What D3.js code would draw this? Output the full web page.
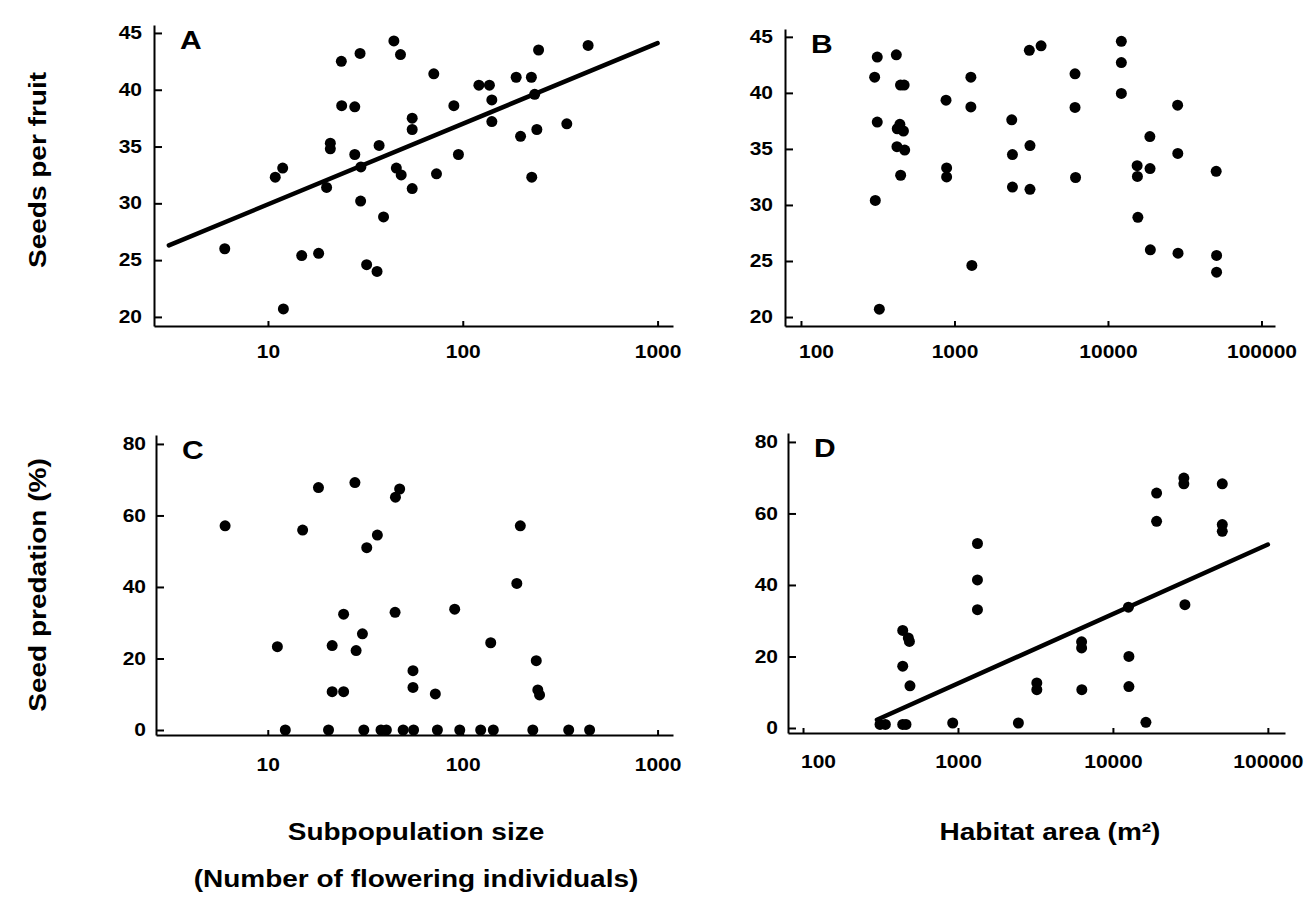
<!DOCTYPE html>
<html>
<head>
<meta charset="utf-8">
<script src="https://cdn.jsdelivr.net/npm/d3@7"></script>
<style>
  body { margin: 0; background: #fff; }
  svg text { font-family: "Liberation Sans", Arial, sans-serif; font-weight: bold; fill: #000; }
  .tick text { font-size: 21px; }
  .titulo { font-size: 28px; }
  .letra { font-size: 30px; }
</style>
</head>
<body>
<div id="graf"></div>
<script>
// A: subpopulation size vs seeds per fruit
const seedsSize = [
  [6.0, 26.0], [12.0, 20.7], [10.9, 32.3], [11.9, 33.1], [14.9, 25.4], [18.2, 25.6],
  [20.0, 31.4], [20.9, 35.3], [20.9, 34.8], [23.8, 42.5], [23.9, 38.6], [27.9, 38.5],
  [27.9, 34.3], [29.7, 43.2], [30.0, 33.2], [29.9, 30.2], [32.1, 24.6], [36.3, 24.0],
  [37.2, 35.1], [39.2, 28.8], [44.3, 44.3], [47.9, 43.1], [45.6, 33.1], [48.3, 32.5],
  [55, 31.3], [55, 37.5], [55, 36.5], [71, 41.4], [73.3, 32.6], [90, 38.6], [95, 34.3],
  [121, 40.4], [137, 40.4], [141, 39.1], [141, 37.2], [188, 41.1], [198, 35.9],
  [225, 41.1], [234, 39.6], [226, 32.3], [240, 36.5], [245, 43.5], [342, 37.0], [440, 43.9]
]
const fitA = [[3.1, 26.3], [1000, 44.1]]

// B: habitat area vs seeds per fruit
const seedsArea = [
  [314, 43.2], [418, 43.4], [302, 41.4], [445, 40.7], [470, 40.7], [314, 37.4], [441, 37.2],
  [424, 36.8], [465, 36.6], [422, 35.2], [474, 34.9], [446, 32.65], [305, 30.4], [324, 20.7],
  [881, 39.35], [889, 33.3], [889, 32.5], [1279, 41.4], [1279, 38.75], [1298, 24.6],
  [2361, 37.6], [2386, 34.5], [2386, 31.6], [3104, 35.3], [3104, 31.4], [3074, 43.8],
  [3666, 44.2], [6100, 41.7], [6100, 38.7], [6150, 32.45], [12220, 44.6], [12220, 42.7],
  [12220, 39.95], [18750, 36.1], [18800, 33.25], [15490, 33.5], [15550, 32.55], [15660, 28.9],
  [18880, 26.0], [28430, 38.9], [28500, 34.6], [28600, 25.7], [50700, 33.0], [51000, 25.5],
  [51000, 24.0]
]

// C: subpopulation size vs seed predation
const predSize = [
  [6.04, 57.1], [11.2, 23.3], [12.3, 0], [15.1, 55.9], [18.2, 67.8], [20.5, 0], [21.4, 23.6],
  [21.4, 10.7], [24.5, 10.7], [24.5, 32.4], [28.0, 69.2], [28.4, 22.2], [30.6, 26.9],
  [31.1, 0], [32.2, 51], [36.5, 54.5], [38.1, 0], [40.6, 0], [45, 32.9], [45.2, 65.1],
  [47.5, 67.4], [49.5, 0], [55.6, 16.6], [55.6, 11.9], [56, 0], [72.4, 10.1], [74.2, 0],
  [91, 33.8], [96.6, 0], [123.7, 0], [143.6, 0], [139.3, 24.4], [189.6, 41.0], [197.6, 57.1],
  [229, 0], [238.6, 19.4], [243, 11.2], [248, 9.8], [350, 0], [448, 0]
]

// D: habitat area vs seed predation
const predArea = [
  [314, 1], [340, 1], [440, 1], [462, 1], [440, 27.3], [478, 25.2], [486, 24.2], [440, 17.3],
  [490, 11.8], [925, 1.4], [1336, 51.6], [1336, 41.4], [1336, 33.1], [2455, 1.4],
  [3228, 12.6], [3228, 10.7], [6280, 24.1], [6280, 22.4], [6300, 10.7], [12590, 33.8],
  [12680, 20.0], [12680, 11.6], [16330, 1.6], [19140, 65.7], [19140, 57.8], [28700, 69.9],
  [28700, 68.3], [29150, 34.5], [50800, 68.3], [50800, 56.9], [50800, 55.0]
]
const fitD = [[300, 2.3], [100000, 51.3]]

// Ticks
const ticksSize = [10, 100, 1000]
const ticksArea = [100, 1000, 10000, 100000]
const ticksSeeds = [20, 25, 30, 35, 40, 45]
const ticksPred = [0, 20, 40, 60, 80]

const letras = ["A", "B", "C", "D"]
const tituloY = ["Seeds per fruit", "Seed predation (%)"]
const tituloX = [["Subpopulation size", "(Number of flowering individuals)"], ["Habitat area (m²)"]]

const draw = () => {
  const k = 0.84 // the scanned text is flatter than Arial
  const svg = d3.select("#graf")
    .append("svg")
    .attr("width", 1308)
    .attr("height", 897)

  const squash = (sel) => sel.each(function () {
    const t = d3.select(this)
    const x = +t.attr("x") || 0
    const y = +t.attr("y") || 0
    t.attr("x", 0).attr("y", 0).attr("transform", `translate(${x},${y}) scale(1,${k})`)
  })

  // Panels
  const panels = [
    { data: seedsSize, fit: fitA, xd: [2.6, 1200], yd: [19.2, 45.7], xt: ticksSize, yt: ticksSeeds,
      l: 154, r: 673, t: 25, b: 326, xPad: 19, yPad: 12, shift: 0 },
    { data: seedsArea, fit: null, xd: [78.7, 122500], yd: [19.2, 45.7], xt: ticksArea, yt: ticksSeeds,
      l: 785, r: 1275, t: 29, b: 326, xPad: 19, yPad: 12, shift: 15 },
    { data: predSize, fit: null, xd: [2.67, 1200], yd: [-1.4, 82.5], xt: ticksSize, yt: ticksPred,
      l: 156, r: 673, t: 435, b: 735, xPad: 23, yPad: 10, shift: 0 },
    { data: predArea, fit: fitD, xd: [80, 129000], yd: [-1.4, 82.5], xt: ticksArea, yt: ticksPred,
      l: 788, r: 1285, t: 433, b: 733, xPad: 22, yPad: 10, shift: 15 }
  ]

  panels.forEach((p, i) => {
    const x = d3.scaleLog().domain(p.xd).range([p.l, p.r])
    const y = d3.scaleLinear().domain(p.yd).range([p.b, p.t])
    const g = svg.append("g")

    const xAxis = d3.axisBottom(x)
      .tickValues(p.xt)
      .tickFormat(d3.format("d"))
      .tickSize(-5)
      .tickSizeOuter(0)
      .tickPadding(p.xPad)

    const yAxis = d3.axisLeft(y)
      .tickValues(p.yt)
      .tickSize(-8)
      .tickSizeOuter(0)
      .tickPadding(p.yPad)

    const xg = g.append("g")
      .attr("transform", `translate(0, ${p.b})`)
      .call(xAxis)
    const yg = g.append("g")
      .attr("transform", `translate(${p.l}, 0)`)
      .call(yAxis)

    ;[xg, yg].forEach((a) => {
      a.attr("font-size", null).attr("font-family", null)
      a.selectAll("path, line").attr("stroke-width", 2)
      squash(a.selectAll("text"))
    })
    // first label of the area axis sits off the tick
    xg.selectAll(".tick text")
      .filter((d, j) => j === 0)
      .attr("x", p.shift)

    // Points
    g.append("g")
      .selectAll("circle")
      .data(p.data)
      .join("circle")
      .attr("cx", (d) => x(d[0]))
      .attr("cy", (d) => y(d[1]))
      .attr("r", 5.5)
      .attr("fill", "#000")

    // Regression
    if (p.fit) {
      g.append("path")
        .datum(p.fit)
        .attr("fill", "none")
        .attr("stroke", "#000")
        .attr("stroke-width", 4.5)
        .attr("stroke-linecap", "round")
        .attr("d", d3.line().x((d) => x(d[0])).y((d) => y(d[1])))
    }

    g.append("text")
      .classed("letra", true)
      .attr("transform", `translate(${p.l + 26}, ${p.t + 24}) scale(1,${k})`)
      .text(letras[i])
  })

  // Axis titles
  tituloY.forEach((s, i) => {
    svg.append("text")
      .classed("titulo", true)
      .attr("text-anchor", "middle")
      .attr("transform", `translate(46, ${i ? 585 : 170}) rotate(-90) scale(1,${k})`)
      .text(s)
  })

  tituloX.forEach((lines, i) => {
    lines.forEach((s, j) => {
      svg.append("text")
        .classed("titulo", true)
        .attr("text-anchor", "middle")
        .attr("transform", `translate(${i ? 1050 : 416}, ${840 + j * 47}) scale(1,${k})`)
        .text(s)
    })
  })
}

draw()
</script>
</body>
</html>
